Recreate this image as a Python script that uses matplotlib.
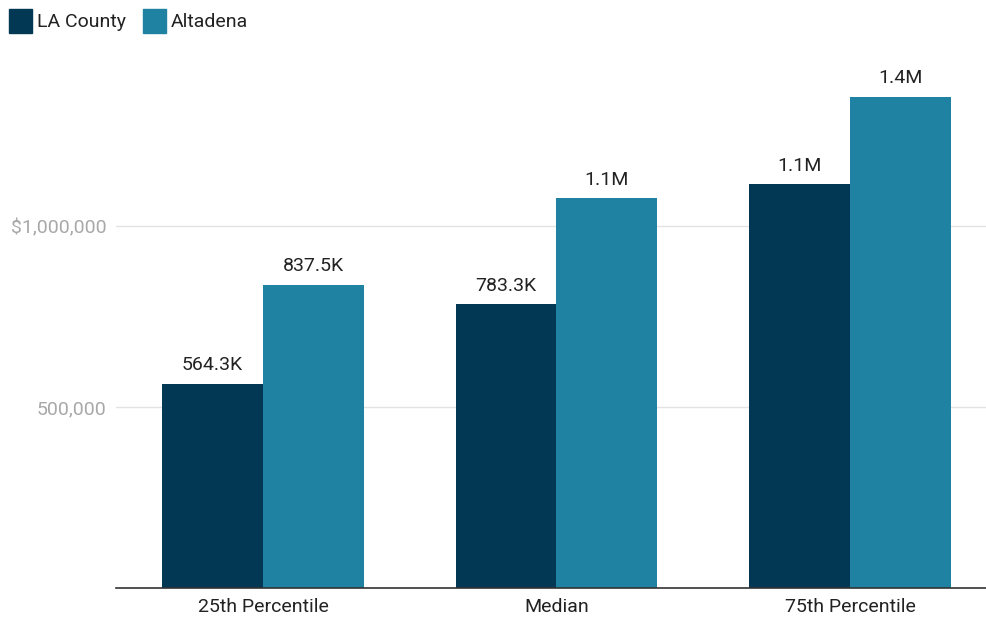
import numpy as np
import matplotlib.pyplot as plt
from matplotlib.patches import Patch

categories = ['25th Percentile', 'Median', '75th Percentile']
la_county = [564300, 783300, 1115000]
altadena = [837500, 1076500, 1356000]
la_labels = ['564.3K', '783.3K', '1.1M']
alt_labels = ['837.5K', '1.1M', '1.4M']
yticks = [500000, 1000000]
ytick_labels = ['500,000', '$1,000,000']

plt.rcParams['font.family'] = ['Roboto', 'DejaVu Sans']

c_la = '#033854'
c_alt = '#1f82a3'

fig = plt.figure(figsize=(9.87, 6.21), dpi=100)
ax = fig.add_axes([116.25 / 987, 33 / 621, 1 - 116.25 / 987, 548 / 621])

x = np.arange(len(categories))
w = 0.344
b1 = ax.bar(x - w / 2, la_county, w, color=c_la, zorder=3)
b2 = ax.bar(x + w / 2, altadena, w, color=c_alt, zorder=3)

for bars, labels in [(b1, la_labels), (b2, alt_labels)]:
    for rect, lab in zip(bars, labels):
        ax.annotate(lab, (rect.get_x() + rect.get_width() / 2, rect.get_height()),
                    xytext=(0, 7), textcoords='offset points', ha='center', va='bottom',
                    fontsize=14, color='#222222')

ax.set_xlim(-0.5, (987 - 116.25) / 293.5 - 0.5)
ax.set_ylim(0, 548 / 362 * 1000000)
ax.set_yticks(yticks)
ax.set_yticklabels(ytick_labels)
ax.set_xticks(x)
ax.set_xticklabels(categories)
ax.tick_params(axis='y', length=0, pad=7, labelsize=14, labelcolor='#a8a8a8')
ax.tick_params(axis='x', length=0, pad=7, labelsize=14, labelcolor='#222222')
ax.grid(axis='y', color='#e3e3e3', linewidth=1, zorder=0)
for s in ['top', 'right', 'left']:
    ax.spines[s].set_visible(False)
ax.spines['bottom'].set_color('#333333')
ax.spines['bottom'].set_linewidth(1.2)
ax.spines['bottom'].set_zorder(4)

handles = [Patch(color=c_la, label='LA County'), Patch(color=c_alt, label='Altadena')]
fig.legend(handles=handles, loc='upper left', bbox_to_anchor=(0.0, 1.0), ncol=2,
           frameon=False, fontsize=14, handlelength=1.18, handleheight=1.55,
           handletextpad=0.26, columnspacing=0.87, borderaxespad=0.05,
           labelcolor='#222222')

fig.savefig('out.png', dpi=100)
